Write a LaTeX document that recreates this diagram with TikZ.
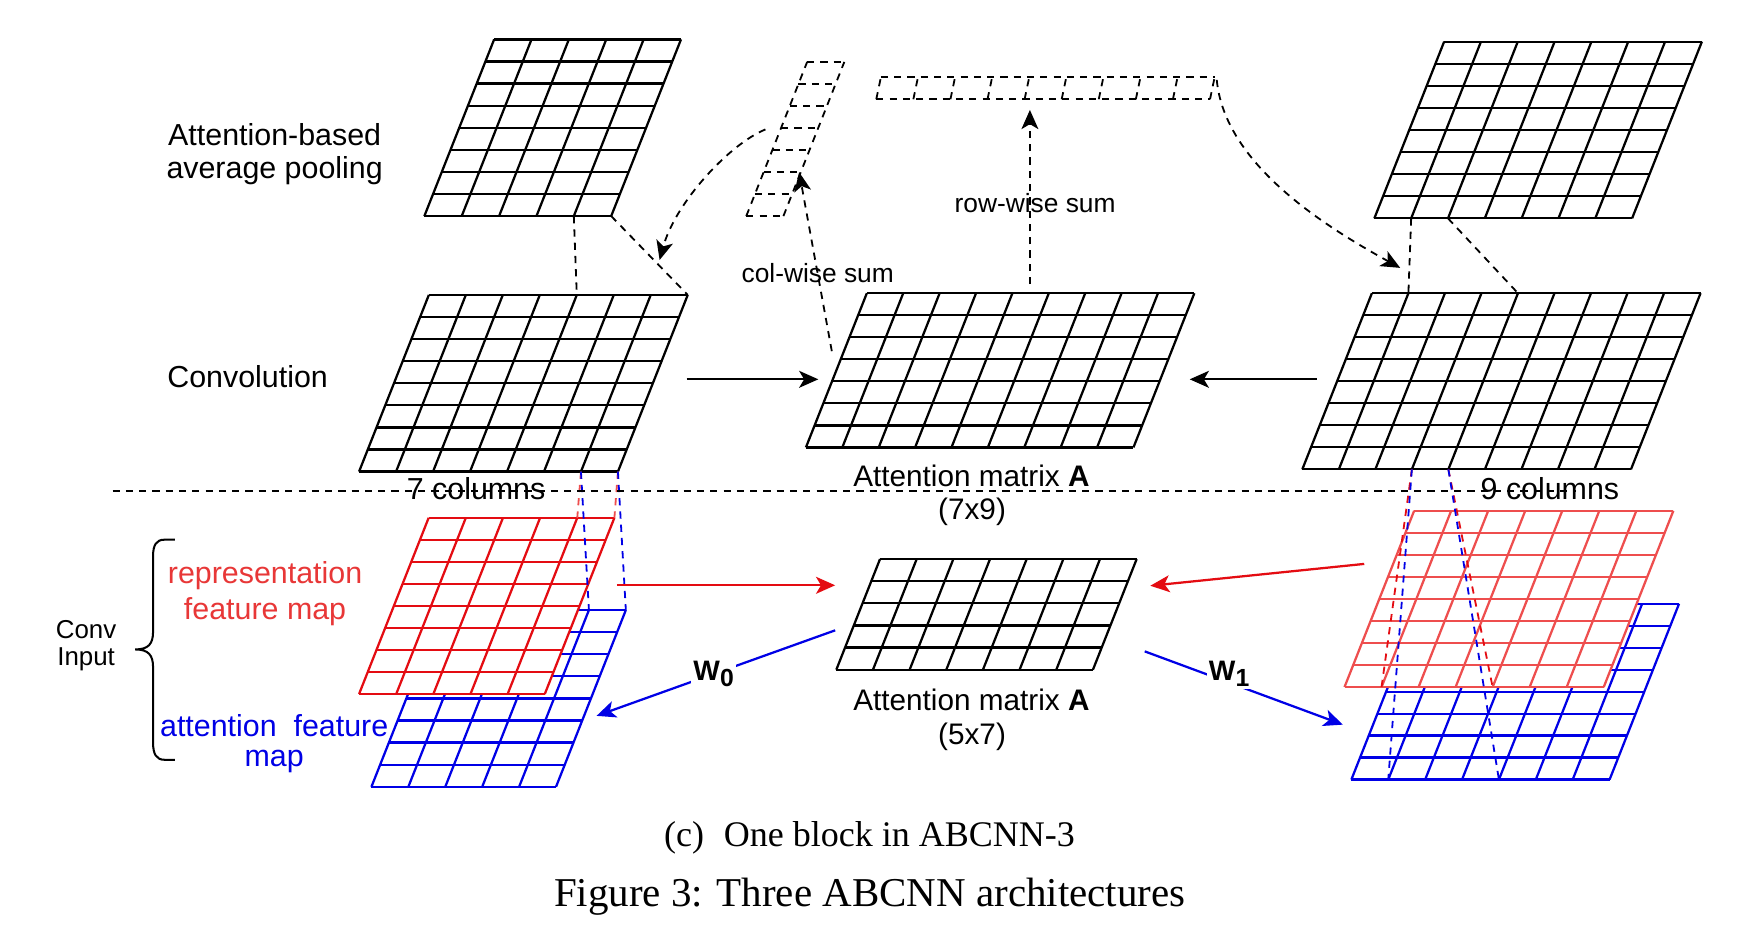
\documentclass[tikz,border=0pt]{standalone}
\usepackage{fontspec}
\setmainfont{Liberation Sans}
\newfontfamily\capfont{Liberation Serif}
\usetikzlibrary{arrows.meta}
\definecolor{myred}{RGB}{228,12,18}
\definecolor{myredl}{RGB}{238,78,78}
\definecolor{myblue}{RGB}{0,0,230}
\definecolor{txtred}{RGB}{232,55,55}

\newcommand\mgrid[9]{%
  \fill[white] (#2,#3) -- ++(#4,0) -- ++({#8*#5},{-#5}) -- ++({-#4},0) -- cycle;
  \foreach \i in {0,...,#6}{%
    \coordinate (#1-b\i) at ({#2+\i*#4/#6},#3);
    \coordinate (#1-t\i) at ({#2+\i*#4/#6+#8*#5},{#3-#5});
    \draw[#9] (#1-b\i) -- (#1-t\i);}
  \foreach \j in {0,...,#7}{%
    \draw[#9] ({#2+#8*\j*#5/#7},{#3-\j*#5/#7}) -- ++(#4,0);}
  \coordinate (#1-bl) at (#2,#3);
  \coordinate (#1-br) at ({#2+#4},#3);
  \coordinate (#1-tl) at ({#2+#8*#5},{#3-#5});
  \coordinate (#1-tr) at ({#2+#4+#8*#5},{#3-#5});
}

\tikzset{
  gk/.style={line width=1pt, black},
  gkr/.style={line width=1pt, myred},
  gkrl/.style={line width=1pt, myredl},
  gkb/.style={line width=1pt, myblue},
  dl/.style={line width=0.8pt, dash pattern=on 3.2pt off 2.7pt},
  arr/.style={-{Stealth[length=8.5pt,width=7.5pt,inset=2.2pt]}, line width=1pt},
  lab/.style={font=\fontsize{13.5}{16}\selectfont, inner sep=0pt},
  labm/.style={font=\fontsize{13.2}{15}\selectfont, inner sep=0pt},
  labs/.style={font=\fontsize{11.7}{14}\selectfont, inner sep=0pt},
  labc/.style={font=\fontsize{11.5}{14}\selectfont, inner sep=0pt},
  wlab/.style={font=\bfseries\fontsize{12.5}{15}\selectfont, fill=white, inner sep=1pt},
}

\begin{document}
\begin{tikzpicture}[x=0.5pt,y=-0.5pt]
\useasboundingbox (0,0) rectangle (1567.2,844);
\fill[white] (0,0) rectangle (1567.2,844);

% grids
\mgrid{poolL}{377}{192}{166}{157}{5}{8}{0.395}{gk}
\mgrid{convL}{319}{419}{230}{157}{7}{8}{0.395}{gk}
\mgrid{attA}{716}{397.5}{291}{137}{9}{7}{0.395}{gk}
\mgrid{poolR}{1221}{194}{229}{157}{7}{8}{0.395}{gk}
\mgrid{convR}{1157}{417}{292}{156.5}{9}{8}{0.395}{gk}
\mgrid{blueL}{330}{699}{164}{157}{5}{8}{0.395}{gkb}
\mgrid{redL}{319}{616.6}{165}{156.6}{5}{8}{0.395}{gkr}
\mgrid{blueR}{1200.6}{692.6}{229.4}{156.2}{7}{8}{0.395}{gkb}
\mgrid{redR}{1194.5}{610.4}{230.3}{156.6}{7}{8}{0.395}{gkrl}
\mgrid{attB}{743}{595}{228}{98.3}{7}{5}{0.395}{gk}
\mgrid{colv}{663}{192}{33}{137}{1}{7}{0.395}{dl}
\mgrid{rowv}{778.5}{88.2}{296.5}{19.5}{9}{1}{0.21}{dl}

% dashed projections
\draw[dl] (poolL-b4) -- (convL-t4);
\draw[dl] (poolL-br) -- (convL-tr);
\draw[dl] (poolR-b1) -- (convR-t1);
\draw[dl] (poolR-b2) -- (convR-t4);
\draw[dl, myredl] (convL-b6) -- (redL-t4);
\draw[dl, myredl] (convL-br) -- (redL-tr);
\draw[dl, myblue] (convL-b6) -- (blueL-t4);
\draw[dl, myblue] (convL-br) -- (blueL-tr);
\draw[dl, myred] (convR-b3) -- (redR-b1);
\draw[dl, myblue] (convR-b3) -- (blueR-b1);
\draw[dl, myred] (convR-b4) -- (redR-b4);
\draw[dl, myblue] (convR-b4) -- (blueR-b4);

% divider
\coordinate (divL) at (100,436);
\coordinate (divR) at (1400,436);
\draw[dl, line width=0.9pt] (divL) -- (divR);

% arrows
\coordinate (a1s) at (610,337); \coordinate (a1e) at (727,337);
\coordinate (a2s) at (1170,337); \coordinate (a2e) at (1057,337);
\draw[arr] (a1s) -- (a1e);
\draw[arr] (a2s) -- (a2e);
\coordinate (cws) at (739,312); \coordinate (cwe) at (710,153);
\coordinate (rws) at (915,252.5); \coordinate (rwe) at (915,97.7);
\draw[arr, dl] (cws) -- (cwe);
\draw[arr, dl] (rws) -- (rwe);
\coordinate (cl1) at (680,115); \coordinate (cl2) at (586,231);
\draw[arr, dl] (cl1) .. controls (648,128) and (600,180) .. (cl2);
\coordinate (cr1) at (1081,71); \coordinate (cr2) at (1244,238);
\draw[arr, dl] (cr1) .. controls (1088,145) and (1175,200) .. (cr2);
\coordinate (rl1) at (548,520); \coordinate (rl2) at (742,520);
\coordinate (rr1) at (1212,501); \coordinate (rr2) at (1022,520.4);
\draw[arr, myred] (rl1) -- (rl2);
\draw[arr, myred] (rr1) -- (rr2);
\coordinate (bl1) at (742,560); \coordinate (bl2) at (530,636);
\coordinate (br1) at (1017,578.7); \coordinate (br2) at (1193,643.8);
\draw[arr, myblue] (bl1) -- (bl2);
\draw[arr, myblue] (br1) -- (br2);
\node[wlab] (w0) at (634,598.7) {W\raisebox{-3pt}{\fontsize{11}{11}\selectfont 0}};
\node[wlab] (w1) at (1092,598.7) {W\raisebox{-3pt}{\fontsize{11}{11}\selectfont 1}};

% brace
\coordinate (brT) at (155.4,479.5);
\coordinate (brM) at (120,577);
\coordinate (brB) at (155.4,675);
\draw[line width=0.9pt] (brT) -- (146,479.5) .. controls (139,479.5) and (136,484) .. (136,494)
  -- (136,561) .. controls (136,572) and (132,577) .. (brM)
  .. controls (132,577) and (136,582) .. (136,593)
  -- (136,660) .. controls (136,670) and (139,675) .. (146,675) -- (brB);

% labels
\node[lab] (tAB) at (244,120) {Attention-based};
\node[lab] (tAP) at (244,151.5) {average pooling};
\node[lab] (tConv) at (220,334.5) {Convolution};
\node[lab] (t7) at (423,434) {7 columns};
\node[lab] (t9) at (1377,434) {9 columns};
\node[labs] (tcw) at (726.5,243) {col-wise sum};
\node[labs] (trw) at (919.6,180) {row-wise sum};
\node[labm] (tAm1) at (863,423) {Attention matrix \textbf{A}};
\node[labm] (t79) at (863.6,454.4) {(7x9)};
\node[labm] (tAm2) at (863,621.6) {Attention matrix \textbf{A}};
\node[labm] (t57) at (863.6,654.2) {(5x7)};
\node[lab, text=txtred] (trep) at (235.5,511.5) {representation};
\node[lab, text=txtred] (tfm) at (235.5,543) {feature map};
\node[lab, text=myblue] (taf) at (243.6,644.8) {attention\ \ feature};
\node[lab, text=myblue] (tmap) at (243.6,676.4) {map};
\node[labc] (tconv) at (76.5,559.5) {Conv};
\node[labc] (tinp) at (76.5,586) {Input};

% caption
\node[font=\capfont\fontsize{16}{19}\selectfont, anchor=base, inner sep=0pt] (capc) at (772.5,752) {(c)\hspace{0.3em} One block in ABCNN-3};
\node[font=\capfont\fontsize{18.2}{21}\selectfont, anchor=base, inner sep=0pt] (capf) at (772.7,805) {Figure 3: Three ABCNN architectures};
\end{tikzpicture}
\end{document}
